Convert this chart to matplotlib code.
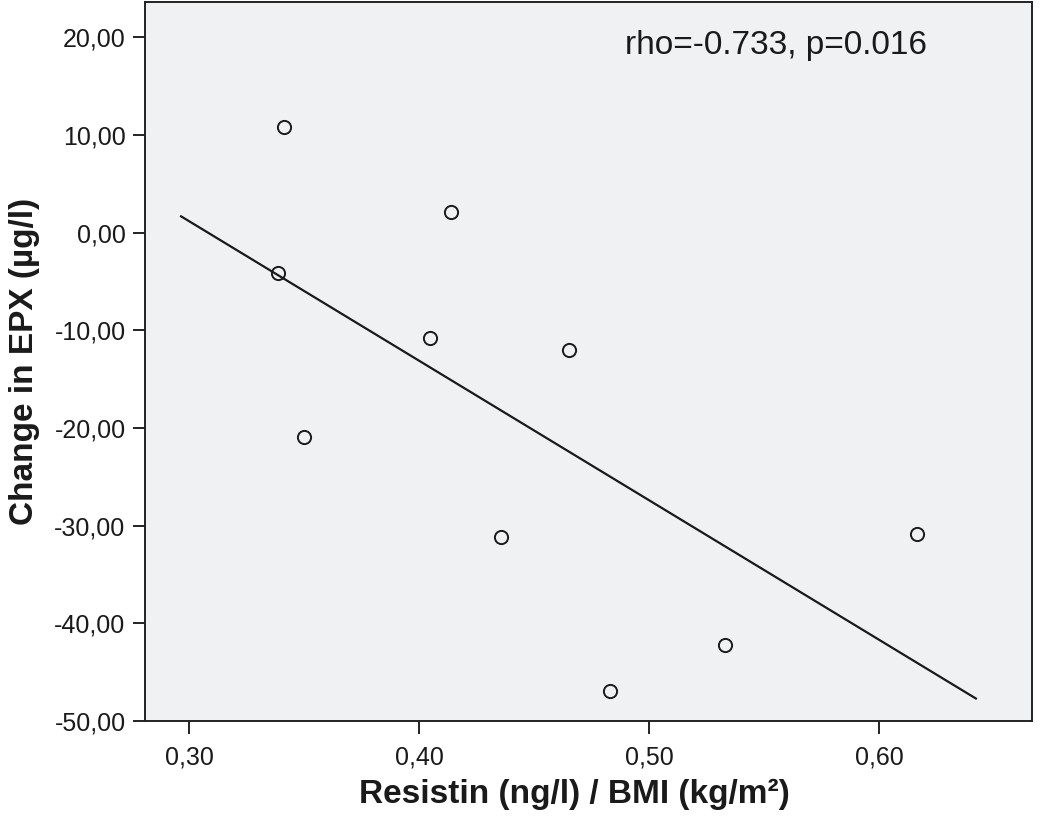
import numpy as np
import matplotlib.pyplot as plt
from matplotlib.ticker import FuncFormatter

plt.rcParams['font.family'] = ['Liberation Sans', 'DejaVu Sans']

# data
resistin_bmi = [0.3412, 0.3386, 0.3499, 0.4138, 0.4047, 0.4355, 0.4651, 0.4829, 0.5329, 0.6164]
change_epx = [10.78, -4.18, -20.88, 2.07, -10.84, -31.13, -12.07, -46.9, -42.19, -30.82]

# fit line end points
fit_x = [0.2964, 0.6420]
fit_y = [1.66, -47.7]

x_ticks = [0.30, 0.40, 0.50, 0.60]
y_ticks = [20, 10, 0, -10, -20, -30, -40, -50]

fig = plt.figure(figsize=(10.4, 8.4), dpi=100)
ax = fig.add_axes([0.1394, 0.1417, 0.8529, 0.8559])
ax.set_facecolor('#f0f1f3')

ax.plot(fit_x, fit_y, color='#1a1a1a', lw=1.6)
ax.plot(resistin_bmi, change_epx, 'o', mfc='none', mec='#1a1a1a', mew=1.4, ms=9.5)

ax.set_xlim(0.2807, 0.6664)
ax.set_ylim(-50, 23.6)
ax.set_xticks(x_ticks)
ax.set_yticks(y_ticks)

comma = lambda fmt: FuncFormatter(lambda v, p: (fmt % v).replace('.', ','))
ax.xaxis.set_major_formatter(comma('%.2f'))
ax.yaxis.set_major_formatter(comma('%.2f'))

ax.tick_params(axis='both', labelsize=18, length=9, width=1.4, color='#222222',
               labelcolor='#1a1a1a', pad=5)
ax.tick_params(axis='x', pad=9)
for s in ax.spines.values():
    s.set_linewidth(1.4)
    s.set_color('#222222')

ax.set_xlabel('Resistin (ng/l) / BMI (kg/m²)', fontsize=24, fontweight='bold',
              color='#1a1a1a')
ax.xaxis.set_label_coords(0.4837, -0.08)
ax.set_ylabel('Change in EPX (µg/l)', fontsize=24, fontweight='bold',
              color='#1a1a1a', labelpad=10)

ax.text(0.541, 0.94, 'rho=-0.733, p=0.016', transform=ax.transAxes,
        fontsize=24, color='#1a1a1a', va='center', ha='left')

fig.savefig('out.png', dpi=100)
